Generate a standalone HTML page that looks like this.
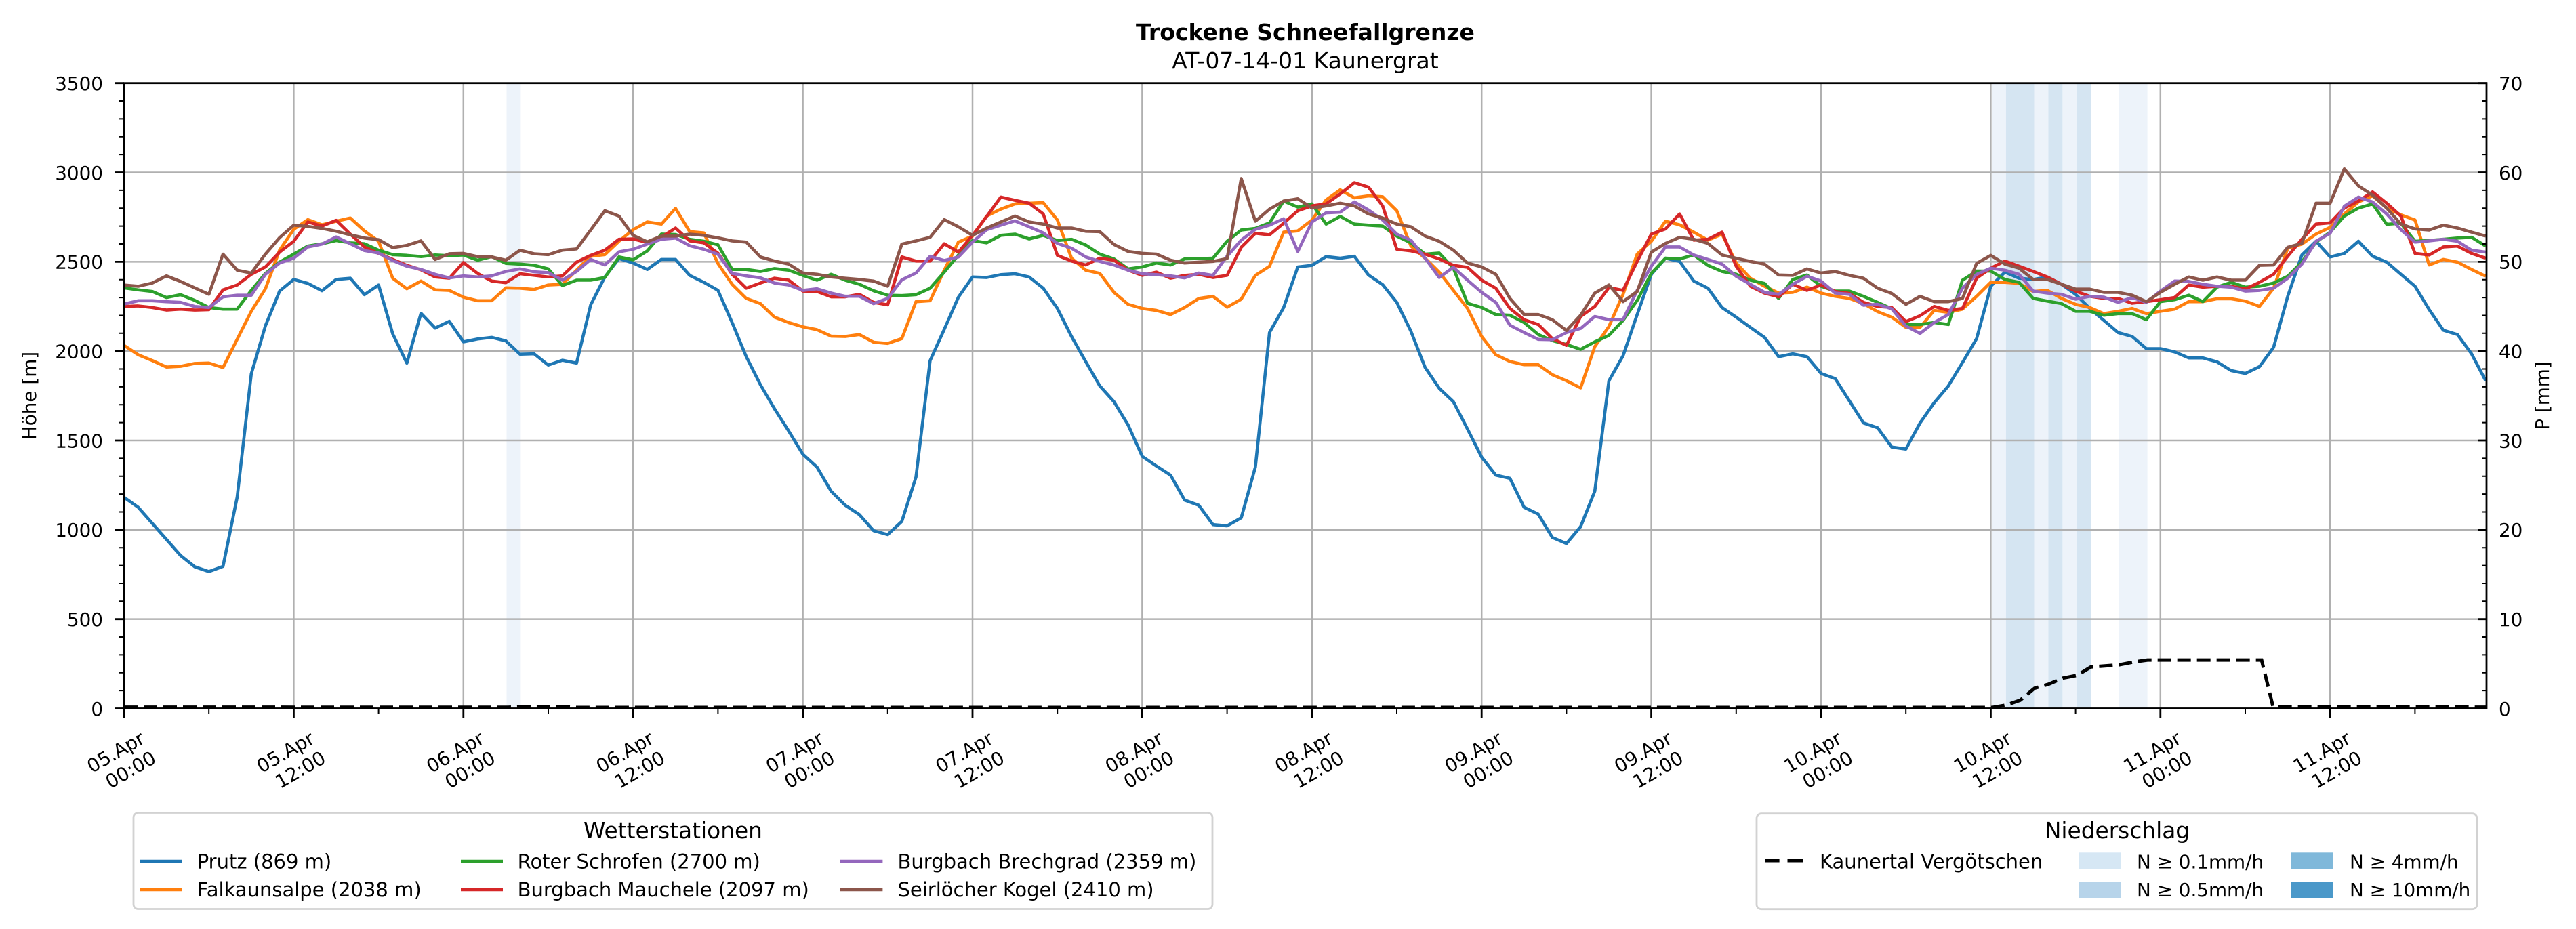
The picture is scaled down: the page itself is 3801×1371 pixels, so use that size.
<!DOCTYPE html>
<html>
<head>
<meta charset="utf-8">
<style>
  html, body { margin:0; padding:0; background:#fff; }
  svg { display:block; }
  text { font-family: "DejaVu Sans", "Liberation Sans", sans-serif; fill:#000; }
</style>
</head>
<body>
<svg width="3801" height="1371" viewBox="0 0 3801 1371" xmlns="http://www.w3.org/2000/svg">
  <rect x="0" y="0" width="3801" height="1371" fill="#fff"/>

  <!-- Titles -->
  <text x="1926" y="59" font-size="33" font-weight="bold" text-anchor="middle">Trockene Schneefallgrenze</text>
  <text x="1926" y="101" font-size="33" text-anchor="middle">AT-07-14-01 Kaunergrat</text>

  <!-- precipitation shading -->
  <g>
    <rect x="747.5" y="122.7" width="20.9" height="922.8" fill="#edf3fa"/>
    <rect x="2939" y="122.7" width="20.9" height="922.8" fill="#edf3fa"/>
    <rect x="2959.9" y="122.7" width="41.7" height="922.8" fill="#d5e5f2"/>
    <rect x="3001.6" y="122.7" width="20.9" height="922.8" fill="#edf3fa"/>
    <rect x="3022.5" y="122.7" width="20.9" height="922.8" fill="#d5e5f2"/>
    <rect x="3043.4" y="122.7" width="20.9" height="922.8" fill="#edf3fa"/>
    <rect x="3064.3" y="122.7" width="20.9" height="922.8" fill="#d5e5f2"/>
    <rect x="3126.9" y="122.7" width="41.7" height="922.8" fill="#edf3fa"/>
  </g>

  <!-- grid -->
  <g stroke="#b0b0b0" stroke-width="2.5" fill="none">
    <path d="M183 913.67H3669M183 781.84H3669M183 650.01H3669M183 518.18H3669M183 386.35H3669M183 254.52H3669"/>
    <path d="M433.4 122.7V1045.5M683.8 122.7V1045.5M934.2 122.7V1045.5M1184.6 122.7V1045.5M1435 122.7V1045.5M1685.4 122.7V1045.5M1935.8 122.7V1045.5M2186.2 122.7V1045.5M2436.6 122.7V1045.5M2687 122.7V1045.5M2937.4 122.7V1045.5M3187.8 122.7V1045.5M3438.2 122.7V1045.5"/>
  </g>

  <!-- data series -->
  <g transform="matrix(20.867 0 0 -0.26366 183 1045.5)" fill="none" stroke-width="4.6" stroke-linejoin="round" stroke-linecap="butt">
    <polyline vector-effect="non-scaling-stroke" stroke="#1f77b4" points="0,1182 1,1126 2,1036 3,946 4,856 5,793 6,766 7,795 8,1182 9,1873 10,2142 11,2336 12,2401 13,2379 14,2338 15,2401 16,2408 17,2316 18,2370 19,2097 20,1933 21,2212 22,2129 23,2167 24,2052 25,2068 26,2077 27,2057 28,1983 29,1985 30,1922 31,1949 32,1933 33,2259 34,2415 35,2518 36,2493 37,2457 38,2513 39,2513 40,2424 41,2385 42,2340 43,2160 44,1969 45,1812 46,1677 47,1553 48,1423 49,1351 50,1216 51,1137 52,1085 53,995 54,973 55,1047 56,1295 57,1947 58,2122 59,2302 60,2415 61,2412 62,2428 63,2433 64,2415 65,2352 66,2239 67,2082 68,1942 69,1805 70,1717 71,1587 72,1411 73,1357 74,1306 75,1166 76,1137 77,1029 78,1022 79,1067 80,1351 81,2104 82,2244 83,2471 84,2480 85,2529 86,2520 87,2531 88,2426 89,2372 90,2273 91,2111 92,1909 93,1792 94,1717 95,1564 96,1407 97,1306 98,1288 99,1126 100,1088 101,957 102,923 103,1018 104,1216 105,1834 106,1974 107,2205 108,2430 109,2520 110,2502 111,2392 112,2352 113,2244 114,2190 115,2133 116,2077 117,1969 118,1985 119,1969 120,1875 121,1846 122,1722 123,1598 124,1571 125,1463 126,1452 127,1598 128,1711 129,1805 130,1936 131,2070 132,2363 133,2442 134,2408 135,2401 136,2415 137,2374 138,2318 139,2239 140,2172 141,2104 142,2082 143,2014 144,2014 145,1996 146,1962 147,1962 148,1940 149,1891 150,1875 151,1913 152,2021 153,2307 154,2538 155,2615 156,2527 157,2547 158,2615 159,2531 160,2498 161,2430 162,2363 163,2233 164,2117 165,2093 166,1985 167,1834"/>
    <polyline vector-effect="non-scaling-stroke" stroke="#ff7f0e" points="0,2032 1,1980 2,1947 3,1911 4,1915 5,1931 6,1933 7,1908 8,2066 9,2223 10,2349 11,2565 12,2682 13,2736 14,2707 15,2727 16,2745 17,2673 18,2615 19,2408 20,2349 21,2392 22,2343 23,2340 24,2302 25,2282 26,2282 27,2354 28,2352 29,2345 30,2370 31,2374 32,2453 33,2531 34,2540 35,2615 36,2680 37,2723 38,2711 39,2799 40,2669 41,2662 42,2490 43,2374 44,2295 45,2266 46,2190 47,2160 48,2136 49,2120 50,2084 51,2082 52,2093 53,2050 54,2043 55,2070 56,2277 57,2282 58,2453 59,2610 60,2644 61,2756 62,2795 63,2824 64,2828 65,2831 66,2734 67,2520 68,2453 69,2435 70,2329 71,2262 72,2239 73,2228 74,2205 75,2244 76,2295 77,2307 78,2246 79,2291 80,2424 81,2475 82,2666 83,2673 84,2734 85,2846 86,2903 87,2858 88,2869 89,2864 90,2786 91,2588 92,2520 93,2442 94,2340 95,2239 96,2082 97,1980 98,1942 99,1924 100,1924 101,1868 102,1834 103,1794 104,2025 105,2138 106,2318 107,2543 108,2615 109,2727 110,2707 111,2666 112,2621 113,2655 114,2493 115,2408 116,2363 117,2325 118,2329 119,2358 120,2325 121,2307 122,2295 123,2266 124,2221 125,2190 126,2133 127,2133 128,2228 129,2217 130,2235 131,2307 132,2385 133,2385 134,2379 135,2334 136,2340 137,2295 138,2262 139,2244 140,2210 141,2223 142,2239 143,2210 144,2223 145,2235 146,2277 147,2277 148,2293 149,2293 150,2280 151,2250 152,2352 153,2576 154,2599 155,2655 156,2693 157,2768 158,2835 159,2869 160,2801 161,2763 162,2734 163,2482 164,2513 165,2498 166,2457 167,2419"/>
    <polyline vector-effect="non-scaling-stroke" stroke="#2ca02c" points="0,2354 1,2343 2,2334 3,2300 4,2316 5,2284 6,2244 7,2235 8,2235 9,2340 10,2435 11,2498 12,2543 13,2588 14,2601 15,2619 16,2606 17,2601 18,2565 19,2540 20,2536 21,2529 22,2538 23,2534 24,2538 25,2509 26,2529 27,2491 28,2487 29,2480 30,2460 31,2367 32,2397 33,2397 34,2412 35,2527 36,2511 37,2561 38,2655 39,2653 40,2626 41,2615 42,2595 43,2457 44,2457 45,2446 46,2462 47,2453 48,2424 49,2397 50,2430 51,2397 52,2374 53,2338 54,2313 55,2311 56,2316 57,2352 58,2442 59,2538 60,2619 61,2606 62,2648 63,2655 64,2628 65,2648 66,2619 67,2626 68,2594 69,2543 70,2516 71,2460 72,2471 73,2493 74,2482 75,2516 76,2518 77,2520 78,2615 79,2678 80,2687 81,2718 82,2840 83,2806 84,2824 85,2711 86,2754 87,2711 88,2705 89,2700 90,2644 91,2606 92,2543 93,2549 94,2464 95,2268 96,2244 97,2205 98,2201 99,2160 100,2093 101,2059 102,2037 103,2010 104,2052 105,2088 106,2172 107,2284 108,2435 109,2520 110,2516 111,2538 112,2480 113,2446 114,2430 115,2397 116,2379 117,2295 118,2401 119,2426 120,2363 121,2336 122,2336 123,2307 124,2273 125,2237 126,2149 127,2149 128,2160 129,2149 130,2397 131,2448 132,2448 133,2401 134,2385 135,2295 136,2280 137,2266 138,2223 139,2223 140,2201 141,2210 142,2210 143,2176 144,2277 145,2288 146,2313 147,2277 148,2358 149,2385 150,2358 151,2363 152,2381 153,2419 154,2498 155,2610 156,2666 157,2756 158,2801 159,2824 160,2710 161,2716 162,2615 163,2619 164,2626 165,2633 166,2637 167,2588"/>
    <polyline vector-effect="non-scaling-stroke" stroke="#d62728" points="0,2250 1,2253 2,2244 3,2230 4,2235 5,2230 6,2232 7,2343 8,2370 9,2430 10,2471 11,2554 12,2615 13,2723 14,2700 15,2732 16,2655 17,2583 18,2547 19,2513 20,2480 21,2455 22,2415 23,2408 24,2496 25,2435 26,2392 27,2383 28,2433 29,2424 30,2415 31,2421 32,2498 33,2536 34,2565 35,2626 36,2628 37,2608 38,2639 39,2689 40,2617 41,2606 42,2548 43,2430 44,2352 45,2381 46,2408 47,2397 48,2336 49,2334 50,2304 51,2304 52,2318 53,2273 54,2259 55,2527 56,2504 57,2504 58,2601 59,2554 60,2648 61,2754 62,2862 63,2844 64,2828 65,2768 66,2536 67,2504 68,2482 69,2520 70,2509 71,2453 72,2424 73,2442 74,2408 75,2424 76,2430 77,2412 78,2424 79,2581 80,2660 81,2651 82,2716 83,2786 84,2813 85,2824 86,2880 87,2943 88,2918 89,2813 90,2570 91,2561 92,2543 93,2516 94,2480 95,2469 96,2397 97,2352 98,2239 99,2176 100,2149 101,2070 102,2032 103,2194 104,2250 105,2356 106,2340 107,2502 108,2655 109,2684 110,2768 111,2621 112,2626 113,2666 114,2475 115,2363 116,2325 117,2304 118,2374 119,2340 120,2370 121,2334 122,2323 123,2273 124,2250 125,2244 126,2165 127,2198 128,2250 129,2228 130,2239 131,2408 132,2464 133,2504 134,2475 135,2446 136,2415 137,2374 138,2336 139,2307 140,2295 141,2295 142,2268 143,2277 144,2288 145,2300 146,2370 147,2358 148,2363 149,2363 150,2347 151,2385 152,2430 153,2531 154,2626 155,2711 156,2718 157,2801 158,2840 159,2891 160,2828 161,2756 162,2547 163,2538 164,2583 165,2588 166,2547 167,2520"/>
    <polyline vector-effect="non-scaling-stroke" stroke="#9467bd" points="0,2264 1,2282 2,2282 3,2277 4,2273 5,2250 6,2244 7,2304 8,2313 9,2313 10,2430 11,2493 12,2520 13,2583 14,2599 15,2639 16,2601 17,2563 18,2549 19,2507 20,2475 21,2457 22,2430 23,2410 24,2421 25,2415 26,2421 27,2446 28,2460 29,2444 30,2439 31,2397 32,2446 33,2513 34,2482 35,2556 36,2570 37,2599 38,2626 39,2633 40,2590 41,2570 42,2542 43,2435 44,2421 45,2410 46,2381 47,2370 48,2340 49,2349 50,2325 51,2307 52,2307 53,2266 54,2295 55,2399 56,2437 57,2531 58,2507 59,2527 60,2610 61,2680 62,2705 63,2729 64,2696 65,2662 66,2603 67,2576 68,2527 69,2502 70,2482 71,2453 72,2433 73,2428 74,2421 75,2410 76,2437 77,2424 78,2531 79,2621 80,2682 81,2705 82,2741 83,2558 84,2723 85,2774 86,2778 87,2835 88,2790 89,2734 90,2655 91,2621 92,2520 93,2412 94,2469 95,2397 96,2329 97,2273 98,2145 99,2104 100,2066 101,2064 102,2104 103,2127 104,2194 105,2176 106,2176 107,2340 108,2475 109,2583 110,2583 111,2538 112,2513 113,2487 114,2419 115,2374 116,2329 117,2318 118,2374 119,2419 120,2392 121,2325 122,2318 123,2257 124,2262 125,2237 126,2140 127,2099 128,2160 129,2205 130,2352 131,2430 132,2464 133,2453 134,2430 135,2336 136,2325 137,2318 138,2291 139,2307 140,2302 141,2273 142,2300 143,2273 144,2336 145,2392 146,2390 147,2374 148,2363 149,2358 150,2336 151,2340 152,2352 153,2408 154,2487 155,2615 156,2660 157,2811 158,2862 159,2835 160,2768 161,2680 162,2610 163,2617 164,2626 165,2615 166,2565 167,2554"/>
    <polyline vector-effect="non-scaling-stroke" stroke="#8c564b" points="0,2370 1,2363 2,2381 3,2421 4,2390 5,2354 6,2318 7,2543 8,2453 9,2437 10,2543 11,2635 12,2705 13,2698 14,2687 15,2671 16,2651 17,2633 18,2624 19,2579 20,2592 21,2617 22,2513 23,2545 24,2547 25,2529 26,2527 27,2509 28,2565 29,2545 30,2540 31,2565 32,2572 33,2678 34,2786 35,2756 36,2648 37,2612 38,2644 39,2644 40,2655 41,2648 42,2634 43,2617 44,2610 45,2527 46,2504 47,2487 48,2437 49,2430 50,2415 51,2408 52,2401 53,2392 54,2363 55,2599 56,2617 57,2637 58,2736 59,2696 60,2648 61,2689 62,2723 63,2756 64,2723 65,2711 66,2689 67,2689 68,2671 69,2669 70,2597 71,2558 72,2547 73,2543 74,2509 75,2493 76,2498 77,2502 78,2518 79,2966 80,2727 81,2795 82,2840 83,2853 84,2801 85,2813 86,2828 87,2813 88,2768 89,2745 90,2711 91,2696 92,2644 93,2615 94,2565 95,2493 96,2471 97,2430 98,2295 99,2205 100,2205 101,2176 102,2115 103,2201 104,2325 105,2370 106,2277 107,2334 108,2554 109,2603 110,2637 111,2626 112,2603 113,2538 114,2520 115,2502 116,2487 117,2426 118,2424 119,2460 120,2437 121,2446 122,2424 123,2408 124,2352 125,2323 126,2262 127,2307 128,2277 129,2277 130,2295 131,2491 132,2536 133,2487 134,2464 135,2401 136,2401 137,2374 138,2347 139,2347 140,2329 141,2329 142,2313 143,2277 144,2329 145,2374 146,2415 147,2397 148,2415 149,2397 150,2397 151,2480 152,2482 153,2581 154,2603 155,2828 156,2828 157,3020 158,2925 159,2873 160,2801 161,2711 162,2684 163,2678 164,2705 165,2689 166,2666 167,2644"/>
  </g>

  <!-- precipitation (twin axis) dashed line -->
  <path d="M183 1043.6 L750 1043.8 L770 1042.5 L830 1042.5 L850 1044 L2939.8 1044 L2960 1040.5 L2980.8 1033.4 L3002.1 1015.6 L3022.9 1009.7 L3043.6 1000.8 L3065 996.6 L3085.2 984.2 L3126.7 981.2 L3147.5 977.1 L3168.8 974.1 L3337.1 974.1 L3354 1043 L3668 1043.6" fill="none" stroke="#000" stroke-width="5" stroke-dasharray="20 9"/>

  <!-- spines -->
  <rect x="183" y="122.7" width="3486" height="922.8" fill="none" stroke="#000" stroke-width="2.8"/>

  <!-- ticks -->
  <g stroke="#000" fill="none">
    <path stroke-width="2.8" d="M169 1045.5H183M169 913.67H183M169 781.84H183M169 650.01H183M169 518.18H183M169 386.35H183M169 254.52H183M169 122.69H183"/>
    <path stroke-width="2" d="M176 1019.13H183M176 992.77H183M176 966.4H183M176 940.04H183M176 887.3H183M176 860.94H183M176 834.57H183M176 808.21H183M176 755.47H183M176 729.11H183M176 702.74H183M176 676.38H183M176 623.64H183M176 597.28H183M176 570.91H183M176 544.55H183M176 491.81H183M176 465.45H183M176 439.08H183M176 412.72H183M176 359.98H183M176 333.62H183M176 307.25H183M176 280.89H183M176 228.15H183M176 201.79H183M176 175.42H183M176 149.06H183"/>
    <path stroke-width="2.8" d="M3656 1045.5H3669M3656 913.67H3669M3656 781.84H3669M3656 650.01H3669M3656 518.18H3669M3656 386.35H3669M3656 254.52H3669M3656 122.69H3669"/>
    <path stroke-width="2" d="M3662 1019.13H3669M3662 992.77H3669M3662 966.4H3669M3662 940.04H3669M3662 887.3H3669M3662 860.94H3669M3662 834.57H3669M3662 808.21H3669M3662 755.47H3669M3662 729.11H3669M3662 702.74H3669M3662 676.38H3669M3662 623.64H3669M3662 597.28H3669M3662 570.91H3669M3662 544.55H3669M3662 491.81H3669M3662 465.45H3669M3662 439.08H3669M3662 412.72H3669M3662 359.98H3669M3662 333.62H3669M3662 307.25H3669M3662 280.89H3669M3662 228.15H3669M3662 201.79H3669M3662 175.42H3669M3662 149.06H3669"/>
    <path stroke-width="2.8" d="M183 1045.5V1060M433.4 1045.5V1060M683.8 1045.5V1060M934.2 1045.5V1060M1184.6 1045.5V1060M1435 1045.5V1060M1685.4 1045.5V1060M1935.8 1045.5V1060M2186.2 1045.5V1060M2436.6 1045.5V1060M2687 1045.5V1060M2937.4 1045.5V1060M3187.8 1045.5V1060M3438.2 1045.5V1060"/>
    <path stroke-width="2" d="M308.2 1045.5V1053M558.6 1045.5V1053M809 1045.5V1053M1059.4 1045.5V1053M1309.8 1045.5V1053M1560.2 1045.5V1053M1810.6 1045.5V1053M2061 1045.5V1053M2311.4 1045.5V1053M2561.8 1045.5V1053M2812.2 1045.5V1053M3062.6 1045.5V1053M3313 1045.5V1053M3563.4 1045.5V1053"/>
  </g>

  <!-- left tick labels -->
  <g font-size="27.8" text-anchor="end">
    <text x="152" y="1055.8">0</text>
    <text x="152" y="924">500</text>
    <text x="152" y="792.1">1000</text>
    <text x="152" y="660.3">1500</text>
    <text x="152" y="528.5">2000</text>
    <text x="152" y="396.6">2500</text>
    <text x="152" y="264.8">3000</text>
    <text x="152" y="133">3500</text>
  </g>
  <!-- right tick labels -->
  <g font-size="27.8" text-anchor="start">
    <text x="3687" y="1055.8">0</text>
    <text x="3687" y="924">10</text>
    <text x="3687" y="792.1">20</text>
    <text x="3687" y="660.3">30</text>
    <text x="3687" y="528.5">40</text>
    <text x="3687" y="396.6">50</text>
    <text x="3687" y="264.8">60</text>
    <text x="3687" y="133">70</text>
  </g>

  <!-- axis labels -->
  <text transform="translate(53,584) rotate(-90)" font-size="27.8" text-anchor="middle">Höhe [m]</text>
  <text transform="translate(3761,584) rotate(-90)" font-size="27.8" text-anchor="middle">P [mm]</text>

  <!-- x tick labels -->
  <g font-size="27.8" text-anchor="end">
    <text transform="translate(179,1124) rotate(-30)"><tspan x="46" y="-6.5">05.Apr</tspan><tspan x="46" y="26.9">00:00</tspan></text>
    <text transform="translate(429.4,1124) rotate(-30)"><tspan x="46" y="-6.5">05.Apr</tspan><tspan x="46" y="26.9">12:00</tspan></text>
    <text transform="translate(679.8,1124) rotate(-30)"><tspan x="46" y="-6.5">06.Apr</tspan><tspan x="46" y="26.9">00:00</tspan></text>
    <text transform="translate(930.2,1124) rotate(-30)"><tspan x="46" y="-6.5">06.Apr</tspan><tspan x="46" y="26.9">12:00</tspan></text>
    <text transform="translate(1180.6,1124) rotate(-30)"><tspan x="46" y="-6.5">07.Apr</tspan><tspan x="46" y="26.9">00:00</tspan></text>
    <text transform="translate(1431,1124) rotate(-30)"><tspan x="46" y="-6.5">07.Apr</tspan><tspan x="46" y="26.9">12:00</tspan></text>
    <text transform="translate(1681.4,1124) rotate(-30)"><tspan x="46" y="-6.5">08.Apr</tspan><tspan x="46" y="26.9">00:00</tspan></text>
    <text transform="translate(1931.8,1124) rotate(-30)"><tspan x="46" y="-6.5">08.Apr</tspan><tspan x="46" y="26.9">12:00</tspan></text>
    <text transform="translate(2182.2,1124) rotate(-30)"><tspan x="46" y="-6.5">09.Apr</tspan><tspan x="46" y="26.9">00:00</tspan></text>
    <text transform="translate(2432.6,1124) rotate(-30)"><tspan x="46" y="-6.5">09.Apr</tspan><tspan x="46" y="26.9">12:00</tspan></text>
    <text transform="translate(2683,1124) rotate(-30)"><tspan x="46" y="-6.5">10.Apr</tspan><tspan x="46" y="26.9">00:00</tspan></text>
    <text transform="translate(2933.4,1124) rotate(-30)"><tspan x="46" y="-6.5">10.Apr</tspan><tspan x="46" y="26.9">12:00</tspan></text>
    <text transform="translate(3183.8,1124) rotate(-30)"><tspan x="46" y="-6.5">11.Apr</tspan><tspan x="46" y="26.9">00:00</tspan></text>
    <text transform="translate(3434.2,1124) rotate(-30)"><tspan x="46" y="-6.5">11.Apr</tspan><tspan x="46" y="26.9">12:00</tspan></text>
  </g>

  <!-- Legend: Wetterstationen -->
  <rect x="197" y="1199.5" width="1592" height="142" rx="7" ry="7" fill="#fff" stroke="#d2d2d2" stroke-width="2.8"/>
  <text x="993" y="1237" font-size="32.8" text-anchor="middle">Wetterstationen</text>
  <g stroke-width="4.6" fill="none">
    <path d="M206.6 1271H269" stroke="#1f77b4"/>
    <path d="M206.6 1313H269" stroke="#ff7f0e"/>
    <path d="M680 1271H742" stroke="#2ca02c"/>
    <path d="M680 1313H742" stroke="#d62728"/>
    <path d="M1240 1271H1302.4" stroke="#9467bd"/>
    <path d="M1240 1313H1302.4" stroke="#8c564b"/>
  </g>
  <g font-size="29">
    <text x="290.7" y="1281.5">Prutz (869 m)</text>
    <text x="290.7" y="1323">Falkaunsalpe (2038 m)</text>
    <text x="763.6" y="1281.5">Roter Schrofen (2700 m)</text>
    <text x="763.6" y="1323">Burgbach Mauchele (2097 m)</text>
    <text x="1324.5" y="1281.5">Burgbach Brechgrad (2359 m)</text>
    <text x="1324.5" y="1323">Seirlöcher Kogel (2410 m)</text>
  </g>

  <!-- Legend: Niederschlag -->
  <rect x="2592" y="1200.7" width="1063" height="141" rx="7" ry="7" fill="#fff" stroke="#d2d2d2" stroke-width="2.8"/>
  <text x="3124" y="1237" font-size="32.8" text-anchor="middle">Niederschlag</text>
  <path d="M2604.5 1270H2625.6M2637.5 1270H2660.7" stroke="#000" stroke-width="5" fill="none"/>
  <rect x="3067" y="1258.3" width="62.7" height="24.4" fill="#d6e7f4"/>
  <rect x="3067" y="1301" width="62.7" height="24" fill="#b7d4ea"/>
  <rect x="3381" y="1258.3" width="61.7" height="24.4" fill="#7fb8da"/>
  <rect x="3381" y="1301" width="61.7" height="24" fill="#4a98c9"/>
  <text x="2685" y="1281.5" font-size="29">Kaunertal Vergötschen</text>
  <g font-size="27.8">
    <text x="3153" y="1281.5">N ≥ 0.1mm/h</text>
    <text x="3153" y="1323">N ≥ 0.5mm/h</text>
    <text x="3467" y="1281.5">N ≥ 4mm/h</text>
    <text x="3467" y="1323">N ≥ 10mm/h</text>
  </g>
</svg>
</body>
</html>
